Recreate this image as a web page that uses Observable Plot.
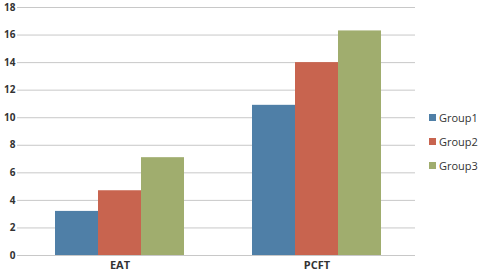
<!DOCTYPE html>
<html><head><meta charset="utf-8">
<script src="https://cdn.jsdelivr.net/npm/d3@7"></script>
<script src="https://cdn.jsdelivr.net/npm/@observablehq/plot@0.6"></script>
<style>
body{margin:0;background:#fff;font-family:"Open Sans",sans-serif;}
#wrap{position:relative;width:480px;height:275px;}
#legend{position:absolute;left:429px;top:105px;font-size:11px;color:#333;}
#legend div{height:24px;display:flex;align-items:center;}
#legend span.sw{display:inline-block;width:7px;height:7px;margin-right:3px;}
</style></head>
<body><div id="wrap"><div id="legend"></div></div>
<script>
const categories = ["EAT", "PCFT"];
const groups = ["Group1", "Group2", "Group3"];
const group1 = [3.2, 10.9];
const group2 = [4.7, 14.0];
const group3 = [7.1, 16.3];
const colors = ["#4f7fa7", "#c8644f", "#a0ad6e"];
const yTicks = [0, 2, 4, 6, 8, 10, 12, 14, 16, 18];

const series = [group1, group2, group3];
const data = [];
categories.forEach((c, i) => groups.forEach((g, j) => data.push({cat: c, group: g, value: series[j][i]})));

const chart = Plot.plot({
  width: 480, height: 275,
  marginLeft: 20, marginRight: 65, marginTop: 7, marginBottom: 20,
  style: {fontFamily: "'Open Sans', sans-serif", fontSize: "10px", color: "#333"},
  fx: {domain: categories, padding: 0, label: null, axis: null},
  x: {domain: groups, padding: 0, paddingOuter: 0.75, axis: null},
  y: {domain: [0, 18], ticks: yTicks, label: null, axis: null},
  color: {domain: groups, range: colors},
  marks: [
    Plot.gridY(yTicks, {stroke: "#c8c8c8", strokeOpacity: 1, strokeWidth: 1}),
    Plot.axisY({ticks: yTicks, tickSize: 4, tickPadding: 2, stroke: "#c8c8c8", fontWeight: "bold", fill: "#333", facetAnchor: "left"}),
    Plot.barY(data, {fx: "cat", x: "group", y: "value", fill: "group"}),
    Plot.ruleX([0], {frameAnchor: "left", stroke: "#c8c8c8", facetAnchor: "left"}),
    Plot.ruleX([0], {frameAnchor: "left", y1: 0, y2: -0.3, stroke: "#c8c8c8", facetAnchor: "right"}),
    Plot.ruleY([0], {stroke: "#c8c8c8"}),
    Plot.axisFx({anchor: "bottom", tickSize: 0, tickPadding: 6, fontWeight: "bold", fontSize: 11, fill: "#333", label: null})
  ]
});
document.getElementById("wrap").prepend(chart);
chart.style.position = "absolute"; chart.style.left = "0"; chart.style.top = "0";

const leg = document.getElementById("legend");
groups.forEach((g, j) => {
  const d = document.createElement("div");
  d.innerHTML = `<span class="sw" style="background:${colors[j]}"></span>${g}`;
  leg.appendChild(d);
});
</script></body></html>
